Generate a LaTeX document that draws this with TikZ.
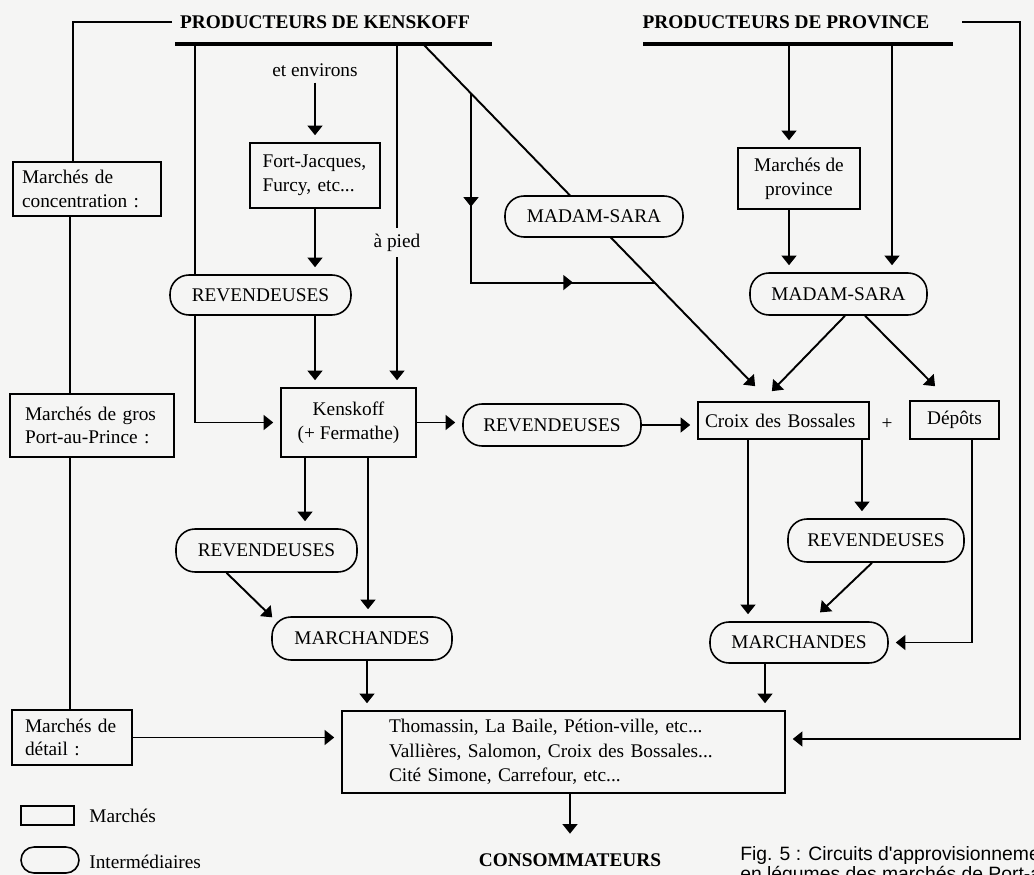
\documentclass[tikz,border=0pt]{standalone}
\usepackage{fontspec}
\setmainfont{Liberation Serif}
\newfontfamily\legende{Liberation Sans}[Ligatures=TeXOff]
\usetikzlibrary{arrows.meta}
\usetikzlibrary{decorations.markings}

\definecolor{papier}{RGB}{245,245,244}
\pgfdeclarelayer{fond}
\pgfdeclarelayer{traits}
\pgfsetlayers{fond,traits,main}

\begin{document}
\begin{tikzpicture}[x=0.02cm, y=-0.02cm,
    every node/.style={font=\fontsize{11}{13.5}\selectfont},
    marche/.style={rectangle, draw, line width=0.9pt, fill=papier, inner sep=0pt},
    interm/.style={rectangle, rounded corners=0.38cm, draw, line width=0.9pt, fill=papier, inner sep=0pt},
    titre/.style={font=\fontsize{11}{13.5}\selectfont\bfseries, inner sep=0.15cm},
    lien/.style={line width=1.1pt},
    pointe/.style={-{Triangle[length=5.5pt, width=8.5pt]}},
    fleche/.style={lien, pointe, shorten >=0.14cm},
    barre/.style={line width=2pt}]

    \useasboundingbox (0,0) rectangle (1034,875);
    \begin{pgfonlayer}{fond}
        \fill[papier] (0,0) rectangle (1034,875);
    \end{pgfonlayer}

    % producteurs
    \node[titre] (ndProdK) at (325,22) {PRODUCTEURS DE KENSKOFF};
    \node[titre] (ndProdP) at (786,22) {PRODUCTEURS DE PROVINCE};
    \coordinate (kbG) at (175,44);
    \coordinate (kbD) at (492,44);
    \coordinate (pbG) at (643,44);
    \coordinate (pbD) at (953,44);
    \draw[barre] (kbG) -- (kbD);
    \draw[barre] (pbG) -- (pbD);
    \coordinate (kb1) at (195,44);
    \coordinate (kb2) at (397,44);
    \coordinate (kb3) at (423,44);
    \coordinate (pb1) at (789,44);
    \coordinate (pb2) at (892,44);
    \coordinate (cDroite) at (1020,739);

    % marches (colonne de gauche)
    \node[marche, minimum width=2.96cm, minimum height=1.08cm, text width=2.6cm, align=left] (ndConc) at (87,189) {Marchés de\\concentration :};
    \node[marche, minimum width=3.28cm, minimum height=1.26cm, text width=2.68cm, align=left] (ndGros) at (92,425.5) {Marchés de gros\\Port-au-Prince :};
    \node[marche, minimum width=2.4cm, minimum height=1.1cm, text width=1.88cm, align=left] (ndDetail) at (72,737.5) {Marchés de\\détail :};

    % marches
    \node (ndEnv) at (315,70) {et environs};
    \node[marche, minimum width=2.6cm, minimum height=1.3cm, text width=2.1cm, align=left] (ndFortJ) at (315,175.5) {Fort-Jacques,\\Furcy, etc...};
    \node[marche, minimum width=2.7cm, minimum height=1.38cm, align=center] (ndKensk) at (348.5,422.5) {Kenskoff\\(+ Fermathe)};
    \node[marche, minimum width=2.44cm, minimum height=1.22cm, align=center] (ndProv) at (799,178.5) {Marchés de\\province};
    \node[marche, minimum width=3.42cm, minimum height=0.74cm, text width=3.14cm, align=left] (ndCroix) at (783.5,420.5) {Croix des Bossales};
    \node (ndPlus) at (887,424) {+};
    \node[marche, minimum width=1.78cm, minimum height=0.76cm] (ndDepots) at (954.5,420) {Dépôts};
    \node[marche, minimum width=8.86cm, minimum height=1.64cm, text width=6.98cm, align=left, font=\fontsize{11}{14}\selectfont] (ndDetailMk) at (563.5,752) {Thomassin, La Baile, Pétion-ville, etc...\\Vallières, Salomon, Croix des Bossales...\\Cité Simone, Carrefour, etc...};
    \node[titre, inner sep=0.25cm] (ndConso) at (570,860) {CONSOMMATEURS};

    % intermediaires
    \node[interm, minimum width=3.62cm, minimum height=0.8cm] (ndRev1) at (260.5,295) {REVENDEUSES};
    \node[interm, minimum width=3.56cm, minimum height=0.84cm] (ndRev2) at (552,425) {REVENDEUSES};
    \node[interm, minimum width=3.62cm, minimum height=0.86cm] (ndRev3) at (266.5,550.5) {REVENDEUSES};
    \node[interm, minimum width=3.52cm, minimum height=0.86cm] (ndRev4) at (876,540.5) {REVENDEUSES};
    \node[interm, minimum width=3.56cm, minimum height=0.82cm] (ndMS1) at (594,216.5) {MADAM-SARA};
    \node[interm, minimum width=3.54cm, minimum height=0.84cm] (ndMS2) at (838.5,294) {MADAM-SARA};
    \node[interm, minimum width=3.6cm, minimum height=0.86cm] (ndMarch1) at (362,638.5) {MARCHANDES};
    \node[interm, minimum width=3.56cm, minimum height=0.82cm] (ndMarch2) at (799,642.5) {MARCHANDES};

    % legende
    \node[marche, minimum width=1.06cm, minimum height=0.38cm] (ndLegM) at (47.5,815.5) {};
    \node[interm, rounded corners=0.26cm, minimum width=1.16cm, minimum height=0.52cm] (ndLegI) at (50,860) {};
    \node[anchor=west, inner sep=0.06cm] (ndLegMT) at (86,816) {Marchés};
    \node[anchor=west, inner sep=0.06cm] (ndLegIT) at (86,862) {Intermédiaires};

    % niveaux de marches
    \draw[lien] (ndProdK.west) -| ([xshift=-0.28cm]ndConc.north);
    \draw[lien] ([xshift=-0.34cm]ndConc.south) -- ([xshift=-0.34cm]ndConc.south |- ndGros.north);
    \draw[lien] ([xshift=-0.44cm]ndGros.south) -- ([xshift=-0.44cm]ndGros.south |- ndDetail.north);
    \draw[fleche] (ndDetail.east) -- (ndDetail.east -| ndDetailMk.west);

    % circuit de Kenskoff
    \begin{pgfonlayer}{traits}
        \draw[fleche] (kb1) |- (ndKensk.west);
        \draw[fleche] (kb3) -- ([xshift=-0.47cm, yshift=0.2cm]ndCroix.north);
    \end{pgfonlayer}
    \path (kb3) -- ([xshift=-0.47cm, yshift=0.2cm]ndCroix.north)
        coordinate[pos=0.1424] (cBr) coordinate[pos=0.687] (cRejoint);
    \draw[lien, postaction={decorate}, decoration={markings,
        mark=at position 0.304 with {\arrow{Triangle[length=5.5pt, width=8.5pt]}},
        mark=at position 0.781 with {\arrow{Triangle[length=5.5pt, width=8.5pt]}}}] (cBr) |- (cRejoint);
    \draw[fleche] (ndEnv.south) -- (ndFortJ.north);
    \draw[fleche] (ndFortJ.south) -- (ndFortJ.south |- ndRev1.north);
    \draw[fleche] (ndFortJ.south |- ndRev1.south) -- (ndFortJ.south |- ndKensk.north);
    \draw[fleche] (kb2) -- (kb2 |- ndKensk.north) node[pos=0.578, fill=papier, inner sep=0.12cm] (ndAPied) {à pied};
    \draw[fleche] (ndKensk.east) -- (ndKensk.east -| ndRev2.west);
    \draw[fleche] (ndRev2.east) -- (ndRev2.east -| ndCroix.west);
    \draw[fleche] ([xshift=-0.87cm]ndKensk.south) -- ([xshift=-0.87cm]ndKensk.south |- ndRev3.north);
    \draw[fleche] ([xshift=0.39cm]ndKensk.south) -- ([xshift=0.39cm]ndKensk.south |- ndMarch1.north);
    \draw[fleche] ([xshift=-0.8cm]ndRev3.south) -- ([xshift=0.12cm, yshift=-0.12cm]ndMarch1.north west);
    \draw[fleche] ([xshift=0.1cm]ndMarch1.south) -- ([xshift=0.1cm]ndMarch1.south |- ndDetailMk.north);

    % circuit de province
    \draw[fleche] (pb1) -- (pb1 |- ndProv.north);
    \draw[fleche] (pb1 |- ndProv.south) -- (pb1 |- ndMS2.north);
    \draw[fleche] (pb2) -- (pb2 |- ndMS2.north);
    \draw[fleche] ([xshift=0.13cm]ndMS2.south) -- ([xshift=-0.33cm, yshift=0.1cm]ndCroix.north);
    \draw[fleche] ([xshift=0.53cm]ndMS2.south) -- ([xshift=-0.29cm, yshift=0.18cm]ndDepots.north);
    \draw[fleche] ([xshift=-0.71cm]ndCroix.south) -- ([xshift=-0.71cm]ndCroix.south |- ndMarch2.north);
    \draw[fleche] ([xshift=1.57cm]ndCroix.south) -- ([xshift=1.57cm]ndCroix.south |- ndRev4.north);
    \draw[fleche] ([xshift=-0.08cm]ndRev4.south) -- ([xshift=0.32cm, yshift=0.08cm]ndMarch2.north);
    \draw[fleche] ([xshift=0.35cm]ndDepots.south) |- (ndMarch2.east);
    \draw[fleche] ([xshift=-0.68cm]ndMarch2.south) -- ([xshift=-0.68cm]ndMarch2.south |- ndDetailMk.north);
    \draw[fleche] ([xshift=0.5cm]ndProdP.east) -| (cDroite) -- (cDroite -| ndDetailMk.east);

    % vers les consommateurs
    \draw[fleche] ([xshift=0.13cm]ndDetailMk.south) -- ([xshift=0.13cm]ndDetailMk.south |- ndConso.north);

    \begin{scope}
        \clip (0,0) rectangle (1034,875);
        \node[anchor=north west, inner sep=0pt, align=left, font=\legende\fontsize{11}{11.5}\selectfont] (ndFig) at (740,846) {Fig. 5 : Circuits d'approvisionnement\\en légumes des marchés de Port-au-Prince};
    \end{scope}
\end{tikzpicture}
\end{document}
